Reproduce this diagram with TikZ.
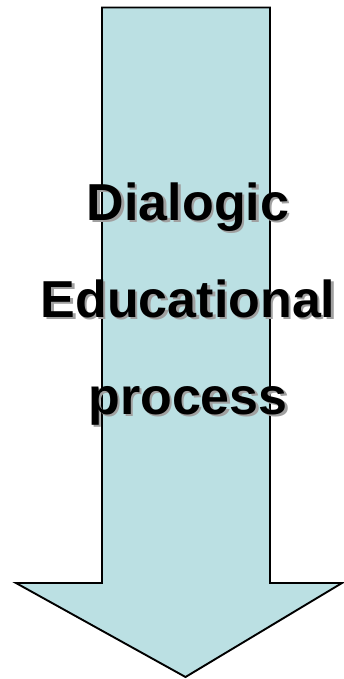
\documentclass[tikz,border=0pt]{standalone}
\usepackage{fontspec}
\setmainfont{Liberation Sans}
\definecolor{arrowfill}{RGB}{187,224,227}
\definecolor{shadowgray}{RGB}{160,160,160}
\newcommand{\shadowed}[1]{\rlap{\hspace{2.5pt}\raisebox{-2.5pt}{\textcolor{shadowgray}{#1}}}#1}
\tikzset{
  arrowshape/.style={fill=arrowfill, draw=black, line width=1.9pt, line join=miter},
  bigtext/.style={font=\fontsize{52}{62}\selectfont\bfseries, inner sep=0pt, anchor=base},
}
\begin{document}
\begin{tikzpicture}[x=1pt,y=-1pt]
\useasboundingbox (0,0) rectangle (343,679);
\draw[arrowshape] (102,7.5) coordinate (tl) -- (270,7.5) coordinate (tr) -- (270,583) -- (342,583)
  -- (185.5,677) coordinate (tip) -- (16,583) -- (102,583) -- cycle;
\node[bigtext] (ta) at (188,220) {\shadowed{Dialogic}};
\node[bigtext] (tb) at (188,317) {\shadowed{Educational}};
\node[bigtext] (tc) at (188,414) {\shadowed{process}};
\end{tikzpicture}
\end{document}
